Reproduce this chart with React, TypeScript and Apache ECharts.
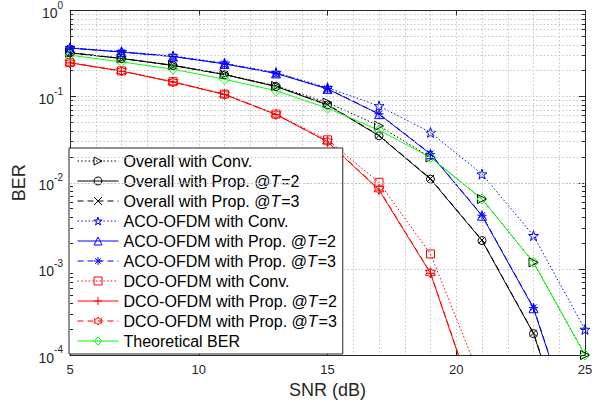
import React, { useEffect, useRef } from 'react';
import * as echarts from 'echarts';

// ---------- data ----------
const SNR = [5, 7, 9, 11, 13, 15, 17, 19, 21, 23, 25];

const overallConv = [0.324, 0.279, 0.232, 0.182, 0.133, 0.0853, 0.0458, 0.0197, 0.00647, 0.00119, 1.0e-4];
const overallPropT2 = [0.322, 0.277, 0.23, 0.18, 0.131, 0.08, 0.0351, 0.011, 0.00213, 1.77e-4, 2.9e-6];
const overallPropT3 = [0.323, 0.278, 0.231, 0.181, 0.132, 0.081, 0.0355, 0.0112, 0.00216, 1.8e-4, 3.0e-6];
const acoConv = [0.37, 0.333, 0.297, 0.244, 0.19, 0.127, 0.078, 0.0383, 0.0126, 0.00243, 1.98e-4];
const acoPropT2 = [0.366, 0.329, 0.292, 0.24, 0.186, 0.123, 0.0626, 0.0215, 0.00414, 3.49e-4, 5.4e-6];
const acoPropT3 = [0.367, 0.33, 0.293, 0.241, 0.187, 0.124, 0.0632, 0.0218, 0.0042, 3.55e-4, 5.6e-6];
const dcoConv = [0.248, 0.199, 0.149, 0.107, 0.0626, 0.0315, 0.0101, 0.00149, 4.8e-5, null, null];
const dcoPropT2 = [0.247, 0.198, 0.148, 0.106, 0.062, 0.0299, 0.00823, 8.87e-4, 1.56e-5, null, null];
const dcoPropT3 = [0.247, 0.198, 0.148, 0.106, 0.0622, 0.0301, 0.0084, 9.0e-4, 1.6e-5, null, null];
const theoretical = [0.303, 0.253, 0.208, 0.159, 0.117, 0.0735, 0.0408, 0.0197, 0.00647, 0.00119, 1.0e-4];

const seriesNames = [
  'Overall with Conv.',
  'Overall with Prop. @T=2',
  'Overall with Prop. @T=3',
  'ACO-OFDM with Conv.',
  'ACO-OFDM with Prop. @T=2',
  'ACO-OFDM with Prop. @T=3',
  'DCO-OFDM with Conv.',
  'DCO-OFDM with Prop. @T=2',
  'DCO-OFDM with Prop. @T=3',
  'Theoretical BER',
];

const X_MIN = 5;
const X_MAX = 25;
const X_INTERVAL = 5;
const Y_MIN = 1e-4;
const Y_MAX = 1;
const MINOR_MULTS = [2, 3, 4, 5, 6, 7, 8, 9];
const DECADES = [-4, -3, -2, -1];

// ---------- styles ----------
const FONT = '"Liberation Sans", Arial, Helvetica, sans-serif';
const BLACK = '#000000';
const BLUE = '#0000FF';
const RED = '#FF0000';
const GREEN = '#00FF00';
const AXIS = '#262626';
const GRID = '#c4c4c4';
const DOT = [1.5, 2.2];
const DASH = [6, 4];

const P_STAR = 'path://M50,0L61.8,36.2L100,36.2L69.1,58.8L80.9,95.1L50,72.7L19.1,95.1L30.9,58.8L0,36.2L38.2,36.2Z';
const P_HEX = 'path://M50,0L64.4,25L93.3,25L78.9,50L93.3,75L64.4,75L50,100L35.6,75L6.7,75L21.1,50L6.7,25L35.6,25Z';
const P_X = 'path://M0,0L100,100M100,0L0,100';
const P_PLUS = 'path://M50,0L50,100M0,50L100,50';
const P_AST = 'path://M50,0L50,100M0,50L100,50M15,15L85,85M85,15L15,85';

export default function App() {
  const ref = useRef<HTMLDivElement>(null);

  useEffect(() => {
    const chart = echarts.init(ref.current!, null, { renderer: 'svg' });

    const mk = (
      name: string,
      vals: (number | null)[],
      color: string,
      dash: any,
      symbol: string,
      size: number,
      rotate = 0
    ) => ({
      name,
      type: 'line',
      xAxisIndex: 0,
      yAxisIndex: 0,
      data: SNR.map((x, i) => [x, vals[i] === null ? null : vals[i]]),
      symbol,
      symbolSize: size,
      symbolRotate: rotate,
      showAllSymbol: true,
      clip: true,
      lineStyle: { color, width: 1, type: dash },
      itemStyle: { color: 'rgba(0,0,0,0)', borderColor: color, borderWidth: 1 },
      emphasis: { disabled: true },
      z: 3,
    });

    const minorVals: number[] = [];
    DECADES.forEach((k) => MINOR_MULTS.forEach((m) => minorVals.push(m * Math.pow(10, k))));
    const tickLen = 0.12;

    const option: any = {
      animation: false,
      textStyle: { fontFamily: FONT },
      grid: { left: 70, top: 9, width: 515, height: 346, containLabel: false },
      legend: {
        orient: 'vertical',
        left: 69,
        top: 148,
        data: seriesNames,
        itemWidth: 41,
        itemHeight: 10,
        itemGap: 0,
        padding: [3, 6, 3, 8],
        backgroundColor: '#ffffff',
        borderColor: AXIS,
        borderWidth: 1,
        selectedMode: false,
        lineStyle: { width: 1 },
        itemStyle: { borderWidth: 1 },
        formatter: (n: string) => n.replace('@T', '@{it|T}'),
        textStyle: {
          fontFamily: FONT,
          fontSize: 16,
          lineHeight: 20,
          color: '#000',
          rich: { it: { fontFamily: FONT, fontSize: 16, fontStyle: 'italic', color: '#000', padding: [0, 1, 0, 0] } },
        },
      },
      xAxis: [
        {
          type: 'value',
          min: X_MIN,
          max: X_MAX,
          interval: X_INTERVAL,
          name: 'SNR (dB)',
          nameLocation: 'middle',
          nameGap: 26,
          nameTextStyle: { fontFamily: FONT, fontSize: 18, color: AXIS },
          axisLine: { show: true, onZero: false, lineStyle: { color: AXIS, width: 1 } },
          axisTick: { show: true, inside: true, length: 5, lineStyle: { color: AXIS } },
          axisLabel: { fontFamily: FONT, fontSize: 13, color: AXIS, margin: 8 },
          splitLine: { show: true, lineStyle: { color: GRID, type: DOT, width: 1 } },
          minorTick: { show: false, splitNumber: 5 },
          minorSplitLine: { show: true, lineStyle: { color: GRID, type: DOT, width: 1 } },
        },
        {
          type: 'value',
          position: 'top',
          min: X_MIN,
          max: X_MAX,
          interval: X_INTERVAL,
          axisLine: { show: true, onZero: false, lineStyle: { color: AXIS, width: 1 } },
          axisTick: { show: true, inside: true, length: 5, lineStyle: { color: AXIS } },
          axisLabel: { show: false },
          splitLine: { show: false },
        },
      ],
      yAxis: [
        {
          type: 'log',
          logBase: 10,
          min: Y_MIN,
          max: Y_MAX,
          name: 'BER',
          nameLocation: 'middle',
          nameGap: 37,
          nameTextStyle: { fontFamily: FONT, fontSize: 18, color: AXIS },
          axisLine: { show: true, onZero: false, lineStyle: { color: AXIS, width: 1 } },
          axisTick: { show: true, inside: true, length: 6, lineStyle: { color: AXIS } },
          axisLabel: {
            margin: 7,
            formatter: (v: number) => '{b|10}{s|' + Math.round(Math.log10(v)) + '}',
            rich: {
              b: { fontFamily: FONT, fontSize: 14, color: AXIS, padding: [5, 0, 0, 0] },
              s: { fontFamily: FONT, fontSize: 10, color: AXIS, padding: [0, 0, 11, 0] },
            },
          },
          splitLine: { show: true, lineStyle: { color: GRID, type: DOT, width: 1 } },
        },
        {
          type: 'log',
          logBase: 10,
          min: Y_MIN,
          max: Y_MAX,
          position: 'right',
          axisLine: { show: true, onZero: false, lineStyle: { color: AXIS, width: 1 } },
          axisTick: { show: true, inside: true, length: 6, lineStyle: { color: AXIS } },
          axisLabel: { show: false },
          splitLine: { show: false },
        },
      ],
      series: [
        {
          name: '_grid',
          type: 'line',
          data: [],
          silent: true,
          z: 1,
          markLine: {
            silent: true,
            symbol: ['none', 'none'],
            label: { show: false },
            animation: false,
            lineStyle: { color: GRID, type: DOT, width: 1 },
            emphasis: { disabled: true },
            data: minorVals.map((v) => ({ yAxis: v })),
          },
        },
        {
          name: '_ticks',
          type: 'line',
          data: [],
          silent: true,
          z: 4,
          markLine: {
            silent: true,
            symbol: ['none', 'none'],
            label: { show: false },
            animation: false,
            lineStyle: { color: AXIS, type: 'solid', width: 1 },
            emphasis: { disabled: true },
            data: [
              ...minorVals.map((v) => [{ coord: [X_MIN, v] }, { coord: [X_MIN + tickLen, v] }]),
              ...minorVals.map((v) => [{ coord: [X_MAX - tickLen, v] }, { coord: [X_MAX, v] }]),
            ],
          },
        },
        mk(seriesNames[0], overallConv, BLACK, DOT, 'triangle', 9, -90),
        mk(seriesNames[1], overallPropT2, BLACK, 'solid', 'circle', 8),
        mk(seriesNames[2], overallPropT3, BLACK, DASH, P_X, 7),
        mk(seriesNames[3], acoConv, BLUE, DOT, P_STAR, 10),
        mk(seriesNames[4], acoPropT2, BLUE, 'solid', 'triangle', 9),
        mk(seriesNames[5], acoPropT3, BLUE, DASH, P_AST, 9),
        mk(seriesNames[6], dcoConv, RED, DOT, 'rect', 8),
        mk(seriesNames[7], dcoPropT2, RED, 'solid', P_PLUS, 9),
        mk(seriesNames[8], dcoPropT3, RED, DASH, P_HEX, 10),
        mk(seriesNames[9], theoretical, GREEN, 'solid', 'diamond', 10),
      ],
    };

    chart.setOption(option);
    return () => chart.dispose();
  }, []);

  return (
    <div
      ref={ref}
      style={{ position: 'absolute', left: 0, top: 0, width: 603, height: 406, background: '#fff' }}
    />
  );
}
